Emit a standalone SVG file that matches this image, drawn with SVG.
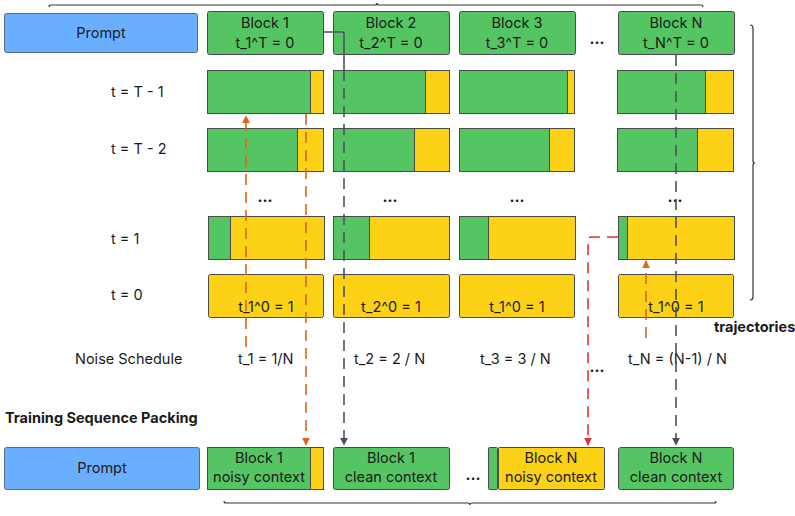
<svg xmlns="http://www.w3.org/2000/svg" width="795" height="516" viewBox="0 0 795 516">
<defs>
<style>
.g{fill:#55C563;stroke:#4a4a4a;stroke-width:1}
.y{fill:#FCD116;stroke:#4a4a4a;stroke-width:1}
.b{fill:#6AAFFF;stroke:#5a6a80;stroke-width:1}
text{font-family:Inter,"Liberation Sans",sans-serif;font-size:14.5px;fill:#1a1a1a}
.c{text-anchor:middle}
.bold{font-weight:bold}
.dots{font-weight:bold;font-size:15px;text-anchor:middle}
.brace{fill:none;stroke:#333;stroke-width:1.2}
.or{fill:none;stroke:#DD6418;stroke-width:1.6;stroke-dasharray:11 7}
.rd{fill:none;stroke:#E8302A;stroke-width:1.6;stroke-dasharray:11 7}
.gy{fill:none;stroke:#4B5260;stroke-width:1.6;stroke-dasharray:11 7}
</style>
<marker id="aO" viewBox="0 0 10 10" refX="9" refY="5" markerWidth="5" markerHeight="5" orient="auto"><path d="M0,0L10,5L0,10z" fill="#DD6418"/></marker>
<marker id="aR" viewBox="0 0 10 10" refX="9" refY="5" markerWidth="5" markerHeight="5" orient="auto"><path d="M0,0L10,5L0,10z" fill="#E8302A"/></marker>
<marker id="aG" viewBox="0 0 10 10" refX="9" refY="5" markerWidth="5" markerHeight="5" orient="auto"><path d="M0,0L10,5L0,10z" fill="#4B5260"/></marker>
</defs>
<rect width="795" height="516" fill="#fff"/>

<!-- braces -->
<g id="braces">
<path class="brace" d="M49,7 Q49,5 51,5 L375,5 Q377,5 377,3 Q377,5 379,5 L701,5 Q703,5 703,7"/>
<path class="brace" d="M750,25 Q753,25 753,28 L753,161 Q753,163 755,163 Q753,163 753,165 L753,297 Q753,300 750,300"/>
<path class="brace" d="M224,501 Q224,503 226,503 L468,503 Q470,503 470,505 Q470,503 472,503 L714,503 Q716,503 716,501"/>
</g>

<!-- top row -->
<g id="prompt-top"><rect class="b" x="4.5" y="13.5" width="193" height="39" rx="2"/><text class="c" x="101" y="38">Prompt</text></g>
<g id="block1-head"><rect class="g" x="207.5" y="11.5" width="116" height="43" rx="2"/><text class="c" x="265" y="28">Block 1</text><text class="c" x="265" y="48">t_1^T = 0</text></g>
<g id="block2-head"><rect class="g" x="333.5" y="11.5" width="116" height="43" rx="2"/><text class="c" x="391" y="28">Block 2</text><text class="c" x="391" y="48">t_2^T = 0</text></g>
<g id="block3-head"><rect class="g" x="459.5" y="11.5" width="116" height="43" rx="2"/><text class="c" x="517" y="28">Block 3</text><text class="c" x="517" y="48">t_3^T = 0</text></g>
<g id="blockN-head"><rect class="g" x="618.5" y="11.5" width="116" height="43" rx="2"/><text class="c" x="676" y="28">Block N</text><text class="c" x="676" y="48">t_N^T = 0</text></g>
<text class="dots" x="597" y="44">...</text>

<!-- row labels -->
<text x="111" y="97">t = T - 1</text>
<text x="111" y="154">t = T - 2</text>
<text x="111" y="244">t = 1</text>
<text x="111" y="300">t = 0</text>

<!-- row T-1 -->
<g id="row-T1">
<rect class="g" x="207.5" y="70.5" width="103" height="43"/><rect class="y" x="310.5" y="70.5" width="13" height="43"/>
<rect class="g" x="333.5" y="70.5" width="92" height="43"/><rect class="y" x="425.5" y="70.5" width="24" height="43"/>
<rect class="g" x="459.5" y="70.5" width="108" height="43"/><rect class="y" x="567.5" y="70.5" width="7" height="43"/>
<rect class="g" x="617.5" y="70.5" width="88" height="43"/><rect class="y" x="705.5" y="70.5" width="28" height="43"/>
</g>
<!-- row T-2 -->
<g id="row-T2">
<rect class="g" x="207.5" y="128.5" width="90" height="43"/><rect class="y" x="297.5" y="128.5" width="26" height="43"/>
<rect class="g" x="333.5" y="128.5" width="81" height="43"/><rect class="y" x="414.5" y="128.5" width="35" height="43"/>
<rect class="g" x="459.5" y="128.5" width="90" height="43"/><rect class="y" x="549.5" y="128.5" width="25" height="43"/>
<rect class="g" x="617.5" y="128.5" width="80" height="43"/><rect class="y" x="697.5" y="128.5" width="36" height="43"/>
</g>
<g id="row-dots">
<text class="dots" x="265" y="202">...</text>
<text class="dots" x="390" y="202">...</text>
<text class="dots" x="517" y="202">...</text>
<text class="dots" x="675" y="202">...</text>
</g>
<!-- row t=1 -->
<g id="row-1">
<rect class="g" x="208.5" y="216.5" width="22" height="43"/><rect class="y" x="230.5" y="216.5" width="94" height="43"/>
<rect class="g" x="333.5" y="216.5" width="36" height="43"/><rect class="y" x="369.5" y="216.5" width="80" height="43"/>
<rect class="g" x="459.5" y="216.5" width="29" height="43"/><rect class="y" x="488.5" y="216.5" width="87" height="43"/>
<rect class="g" x="618.5" y="216.5" width="9" height="43"/><rect class="y" x="627.5" y="216.5" width="107" height="43"/>
</g>
<!-- row t=0 -->
<g id="row-0">
<rect class="y" x="208.5" y="274.5" width="115" height="43" rx="2"/><text class="c" x="266" y="312">t_1^0 = 1</text>
<rect class="y" x="333.5" y="274.5" width="116" height="43" rx="2"/><text class="c" x="391" y="312">t_2^0 = 1</text>
<rect class="y" x="459.5" y="274.5" width="115" height="43" rx="2"/><text class="c" x="517" y="312">t_1^0 = 1</text>
<rect class="y" x="618.5" y="274.5" width="115" height="43" rx="2"/><text class="c" x="676" y="312">t_1^0 = 1</text>
</g>
<text class="bold" x="714" y="332">trajectories</text>

<!-- noise schedule -->
<g id="noise-schedule">
<text x="75" y="364">Noise Schedule</text>
<text x="238" y="364">t_1 = 1/N</text>
<text x="354" y="364">t_2 = 2 / N</text>
<text x="480" y="364">t_3 = 3 / N</text>
<text x="628" y="364">t_N = (N-1) / N</text>
<text class="dots" x="597" y="372">...</text>
</g>

<text class="bold" x="5" y="423">Training Sequence Packing</text>

<!-- bottom row -->
<g id="prompt-bottom"><rect class="b" x="4.5" y="447.5" width="195" height="42" rx="2"/><text class="c" x="102" y="473">Prompt</text></g>
<g id="block1-noisy"><rect class="g" x="207.5" y="447.5" width="103" height="42"/><rect class="y" x="310.5" y="447.5" width="13" height="42"/><text class="c" x="259" y="463">Block 1</text><text class="c" x="259" y="482">noisy context</text></g>
<g id="block1-clean"><rect class="g" x="333.5" y="447.5" width="116" height="42" rx="2"/><text class="c" x="391" y="463">Block 1</text><text class="c" x="391" y="482">clean context</text></g>
<text class="dots" x="473" y="480">...</text>
<g id="blockN-noisy"><rect class="g" x="488.5" y="447.5" width="9" height="42" rx="1"/><rect class="y" x="498.5" y="447.5" width="106" height="42" rx="1"/><text class="c" x="551" y="463">Block N</text><text class="c" x="551" y="482">noisy context</text></g>
<g id="blockN-clean"><rect class="g" x="618.5" y="447.5" width="115" height="42" rx="2"/><text class="c" x="676" y="463">Block N</text><text class="c" x="676" y="482">clean context</text></g>

<!-- connectors -->
<g id="connectors">
<path d="M323,32 L342,32 Q344,32 344,34 L344,70" fill="none" stroke="#4B5260" stroke-width="1.6"/>
<path class="gy" d="M344,70 L344,445" marker-end="url(#aG)"/>
<path class="gy" d="M676,55 L676,445" marker-end="url(#aG)"/>
<path class="or" d="M246,347 L246,116" marker-end="url(#aO)"/>
<path class="or" d="M306,114 L306,445" marker-end="url(#aO)"/>
<path class="or" d="M646,338 L646,261" marker-end="url(#aO)"/>
<path class="rd" d="M618,237 L591,237 Q588,237 588,240 L588,445" marker-end="url(#aR)"/>
</g>
</svg>
